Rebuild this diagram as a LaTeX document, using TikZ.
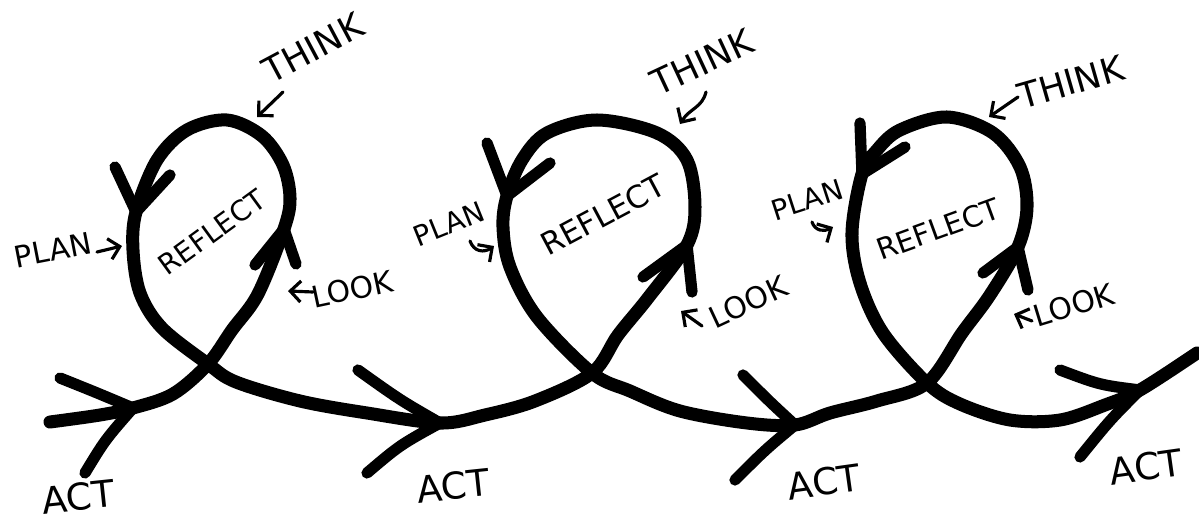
\documentclass[tikz,border=0pt]{standalone}
\usepackage{fontspec}
\setmainfont{DejaVu Sans}
\usepackage{tikz}
\usetikzlibrary{arrows.meta}

\begin{document}
\begin{tikzpicture}[
    x=0.01cm, y=-0.01cm,
    loopline/.style={line width=3.7pt, line cap=round, line join=round},
    barb/.style={line width=3.2pt, line cap=round},
    pointer/.style={line width=0.9pt, line cap=round, -{Straight Barb[length=3pt, width=6pt]}},
    word/.style={inner sep=0pt, font=\fontsize{#1}{#1}\selectfont},
]
\useasboundingbox (0,0) rectangle (1199,521);

% points on the line
\coordinate (act1) at (133,408);
\coordinate (x1) at (208,364);
\coordinate (look1) at (284,229);
\coordinate (plan1) at (136,212);
\coordinate (act2) at (440,423);
\coordinate (x2) at (592,373);
\coordinate (look2) at (687,245);
\coordinate (plan2) at (507,196);
\coordinate (act3) at (795,425);
\coordinate (x3) at (927,383);
\coordinate (look3) at (1018,247);
\coordinate (plan3) at (862,174);
\coordinate (act4) at (1140,390);

% the spiral
\draw[loopline] plot[smooth, tension=0.55] coordinates {
  (50,422) (100,415) (act1) (173,394) (x1) (232,330) (258,294) (look1)
  (290,198) (283,165) (262,136) (227,120) (187,130) (157,160) (plan1)
  (133,250) (140,293) (162,328) (x1) (236,382) (300,401) (367,413) (act2)
  (485,415) (535,401) (x2) (618,335) (648,298) (look2)
  (695,207) (687,160) (657,133) (597,120) (547,133) (522,160) (plan2)
  (503,227) (510,267) (537,317) (x2) (630,391) (680,411) (747,423) (act3)
  (830,413) (877,401) (x3) (962,333) (990,295) (look3)
  (1027,207) (1020,167) (993,133) (947,117) (900,130) (877,150) (plan3)
  (852,233) (860,283) (883,333) (x3) (960,404) (1010,420) (1060,420) (1105,405) (act4)
  (1197,353)};

% arrowheads on the line
\draw[barb] (60,378) .. controls (95,392) .. (act1);
\draw[barb] (85,473) .. controls (105,440) .. (act1);
\draw[barb] (358,370) .. controls (400,400) .. (act2);
\draw[barb] (367,473) .. controls (400,445) .. (act2);
\draw[barb] (743,375) .. controls (770,402) .. (act3);
\draw[barb] (735,480) .. controls (765,450) .. (act3);
\draw[barb] (1060,370) .. controls (1100,385) .. (act4);
\draw[barb] (1080,457) .. controls (1110,420) .. (act4);
\draw[barb] (255,265) -- (look1);
\draw[barb] (296,264) -- (look1);
\draw[barb] (643,277) -- (look2);
\draw[barb] (692,292) -- (look2);
\draw[barb] (983,273) -- (look3);
\draw[barb] (1028,290) -- (look3);
\draw[barb] (115,167) -- (plan1);
\draw[barb] (170,175) -- (plan1);
\draw[barb] (487,143) -- (plan2);
\draw[barb] (550,163) -- (plan2);
\draw[barb] (860,123) -- (plan3);
\draw[barb] (905,147) -- (plan3);

% labels
\node[word=10, rotate=28] (think1) at (313,48) {THINK};
\node[word=8, rotate=36] (reflect1) at (212,232) {REFLECT};
\node[word=8.5, rotate=11] (plantxt1) at (53,250) {PLAN};
\node[word=8.5, rotate=12] (looktxt1) at (352,289) {LOOK};
\node[word=10.5, rotate=6] (acttxt1) at (78,497) {ACT};

\node[word=10, rotate=25] (think2) at (702,62) {THINK};
\node[word=8.8, rotate=28] (reflect2) at (603,215) {REFLECT};
\node[word=8, rotate=22] (plantxt2) at (449,224) {PLAN};
\node[word=8.5, rotate=25] (looktxt2) at (748,302) {LOOK};
\node[word=10.5, rotate=6] (acttxt2) at (453,486) {ACT};

\node[word=10, rotate=16] (think3) at (1071,82) {THINK};
\node[word=8.3, rotate=20] (reflect3) at (938,229) {REFLECT};
\node[word=8, rotate=18] (plantxt3) at (807,200) {PLAN};
\node[word=8.5, rotate=17] (looktxt3) at (1074,305) {LOOK};
\node[word=10.5, rotate=8] (acttxt3) at (824,482) {ACT};
\node[word=10.5, rotate=8] (acttxt4) at (1146,467) {ACT};

% small pointers
\draw[pointer] (283,92) -- (257,117);
\draw[pointer] (706,92) .. controls (702,108) and (690,108) .. (680,124);
\draw[pointer] (1018,97) -- (989,117);
\draw[pointer] (97,252) -- (122,246);
\draw[pointer] (470,241) .. controls (474,252) and (484,253) .. (494,246);
\draw[pointer] (812,222) .. controls (815,231) and (824,232) .. (833,227);
\draw[pointer] (313,292) -- (288,291);
\draw[pointer] (702,326) -- (681,311);
\draw[pointer] (1032,321) -- (1014,314);
\end{tikzpicture}
\end{document}
